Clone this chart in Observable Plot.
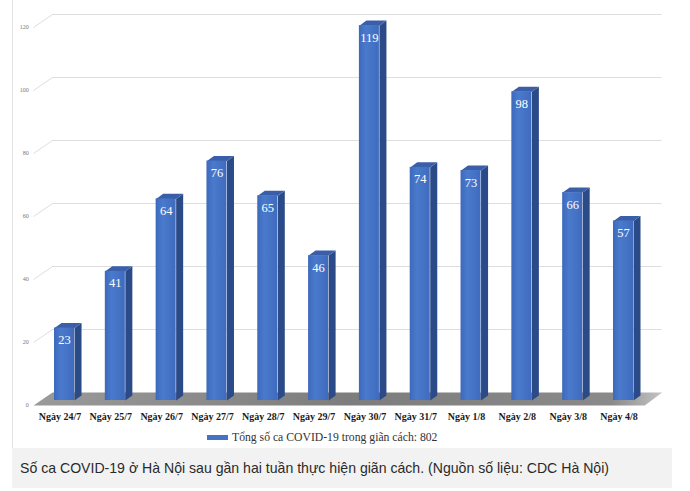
<!DOCTYPE html>
<html><head><meta charset="utf-8">
<script src="https://cdn.jsdelivr.net/npm/d3@7"></script>
<script src="https://cdn.jsdelivr.net/npm/@observablehq/plot@0.6"></script>
<style>
body{margin:0;background:#fff;width:690px;height:491px;position:relative;overflow:hidden;font-family:"Liberation Sans",Arial,sans-serif}
#chart{position:absolute;left:0;top:0}
#border{position:absolute;left:12px;top:0;width:1px;height:448px;background:#e3e3e3}
#legend{position:absolute;left:207px;top:429px;height:16px;font:11.7px "Liberation Serif",serif;color:#333;display:flex;align-items:center;white-space:nowrap}
#legend .sw{width:21px;height:5px;background:#4472c4;margin-right:4px}
#caption{position:absolute;left:12px;top:448px;width:660px;height:40px;background:#f2f2f2;font:14.1px "Liberation Sans",Arial,sans-serif;color:#2a2a2a;line-height:40px;padding-left:8px;box-sizing:border-box;white-space:nowrap}
</style></head>
<body>
<div id="border"></div>
<div id="chart"></div>
<div id="legend"><span class="sw"></span><span id="legtext"></span></div>
<div id="caption"></div>
<script>
const days = ["Ngày 24/7","Ngày 25/7","Ngày 26/7","Ngày 27/7","Ngày 28/7","Ngày 29/7","Ngày 30/7","Ngày 31/7","Ngày 1/8","Ngày 2/8","Ngày 3/8","Ngày 4/8"];
const cases = [23,41,64,76,65,46,119,74,73,98,66,57];
const yTicks = [0,20,40,60,80,100,120];
const legendLabel = "Tổng số ca COVID-19 trong giãn cách: 802";
const captionText = "Số ca COVID-19 ở Hà Nội sau gần hai tuần thực hiện giãn cách. (Nguồn số liệu: CDC Hà Nội)";

document.getElementById("legtext").textContent = legendLabel;
document.getElementById("caption").textContent = captionText;

// geometry (in scale units)
const halfW = 0.197, depX = 0.138, depY = 1.6;
const wallX = -0.236, wallY = 2.54, frontX = -0.61, frontY = -1.59;
const n = days.length;

const bars = days.map((d, i) => ({i, day: d, v: cases[i]}));
const sideFaces = bars.flatMap(b => [
  {id: b.i, x: b.i + halfW, y: 0},
  {id: b.i, x: b.i + halfW, y: b.v},
  {id: b.i, x: b.i + halfW + depX, y: b.v + depY},
  {id: b.i, x: b.i + halfW + depX, y: depY}
]);
const topFaces = bars.flatMap(b => [
  {id: b.i, x: b.i - halfW, y: b.v},
  {id: b.i, x: b.i + halfW, y: b.v},
  {id: b.i, x: b.i + halfW + depX, y: b.v + depY},
  {id: b.i, x: b.i - halfW + depX, y: b.v + depY}
]);
const floorPoly = [
  {x: frontX, y: frontY},
  {x: n - 1 + 0.42, y: frontY},
  {x: n - 1 + 0.76, y: wallY},
  {x: wallX, y: wallY}
];
const grid = yTicks.filter(t => t > 0);

const svg = Plot.plot({
  width: 690,
  height: 425,
  style: {background: "transparent", overflow: "visible"},
  x: {type: "linear", domain: [-0.5, 11.5], range: [38.6, 648.4], axis: null},
  y: {type: "linear", domain: [0, 120], range: [400, 22], axis: null},
  marks: [
    Plot.line(floorPoly, {x: "x", y: "y", fill: "url(#floorGrad)", stroke: "none"}),
    Plot.ruleY(grid, {y: t => t + wallY, x1: () => wallX, x2: () => n - 1 + 0.76, stroke: "#dedede", strokeWidth: 1}),
    Plot.link(grid, {x1: () => frontX, y1: t => t + frontY, x2: () => wallX, y2: t => t + wallY, stroke: "#dedede", strokeWidth: 1}),
    Plot.line(sideFaces, {x: "x", y: "y", z: "id", fill: "#2b4a88", stroke: "none"}),
    Plot.line(topFaces, {x: "x", y: "y", z: "id", fill: "#3a5ea8", stroke: "none"}),
    Plot.rect(bars, {x1: b => b.i - halfW, x2: b => b.i + halfW, y1: () => 0, y2: "v", fill: "url(#frontGrad)"}),
    Plot.text(bars, {x: "i", y: "v", text: b => String(b.v), dy: 12, fill: "white", fontSize: 12.5, fontFamily: "Liberation Serif, serif"}),
    Plot.text(bars, {x: "i", y: () => 0, text: "day", dy: 16, dx: -4.5, fill: "#1a1a1a", fontSize: 10, fontWeight: "bold", fontFamily: "Liberation Serif, serif"}),
    Plot.text(yTicks, {x: () => -0.705, y: t => t, text: t => String(t), dy: 5, textAnchor: "end", fill: "#777", fontSize: 6, fontFamily: "Liberation Serif, serif"})
  ]
});

const defs = d3.select(svg).insert("defs", ":first-child");
const fg = defs.append("linearGradient").attr("id", "frontGrad").attr("x1", "0").attr("x2", "1").attr("y1", "0").attr("y2", "0");
fg.append("stop").attr("offset", "0").attr("stop-color", "#3d69bb");
fg.append("stop").attr("offset", "0.35").attr("stop-color", "#4a7acd");
fg.append("stop").attr("offset", "1").attr("stop-color", "#3f6bbd");
const flg = defs.append("linearGradient").attr("id", "floorGrad").attr("x1", "0").attr("x2", "1").attr("y1", "0").attr("y2", "0");
flg.append("stop").attr("offset", "0").attr("stop-color", "#9a9a9a");
flg.append("stop").attr("offset", "0.5").attr("stop-color", "#7d7d7d");
flg.append("stop").attr("offset", "0.92").attr("stop-color", "#8a8a8a");
flg.append("stop").attr("offset", "1").attr("stop-color", "#c4c4c4");

document.getElementById("chart").appendChild(svg);
</script>
</body></html>
